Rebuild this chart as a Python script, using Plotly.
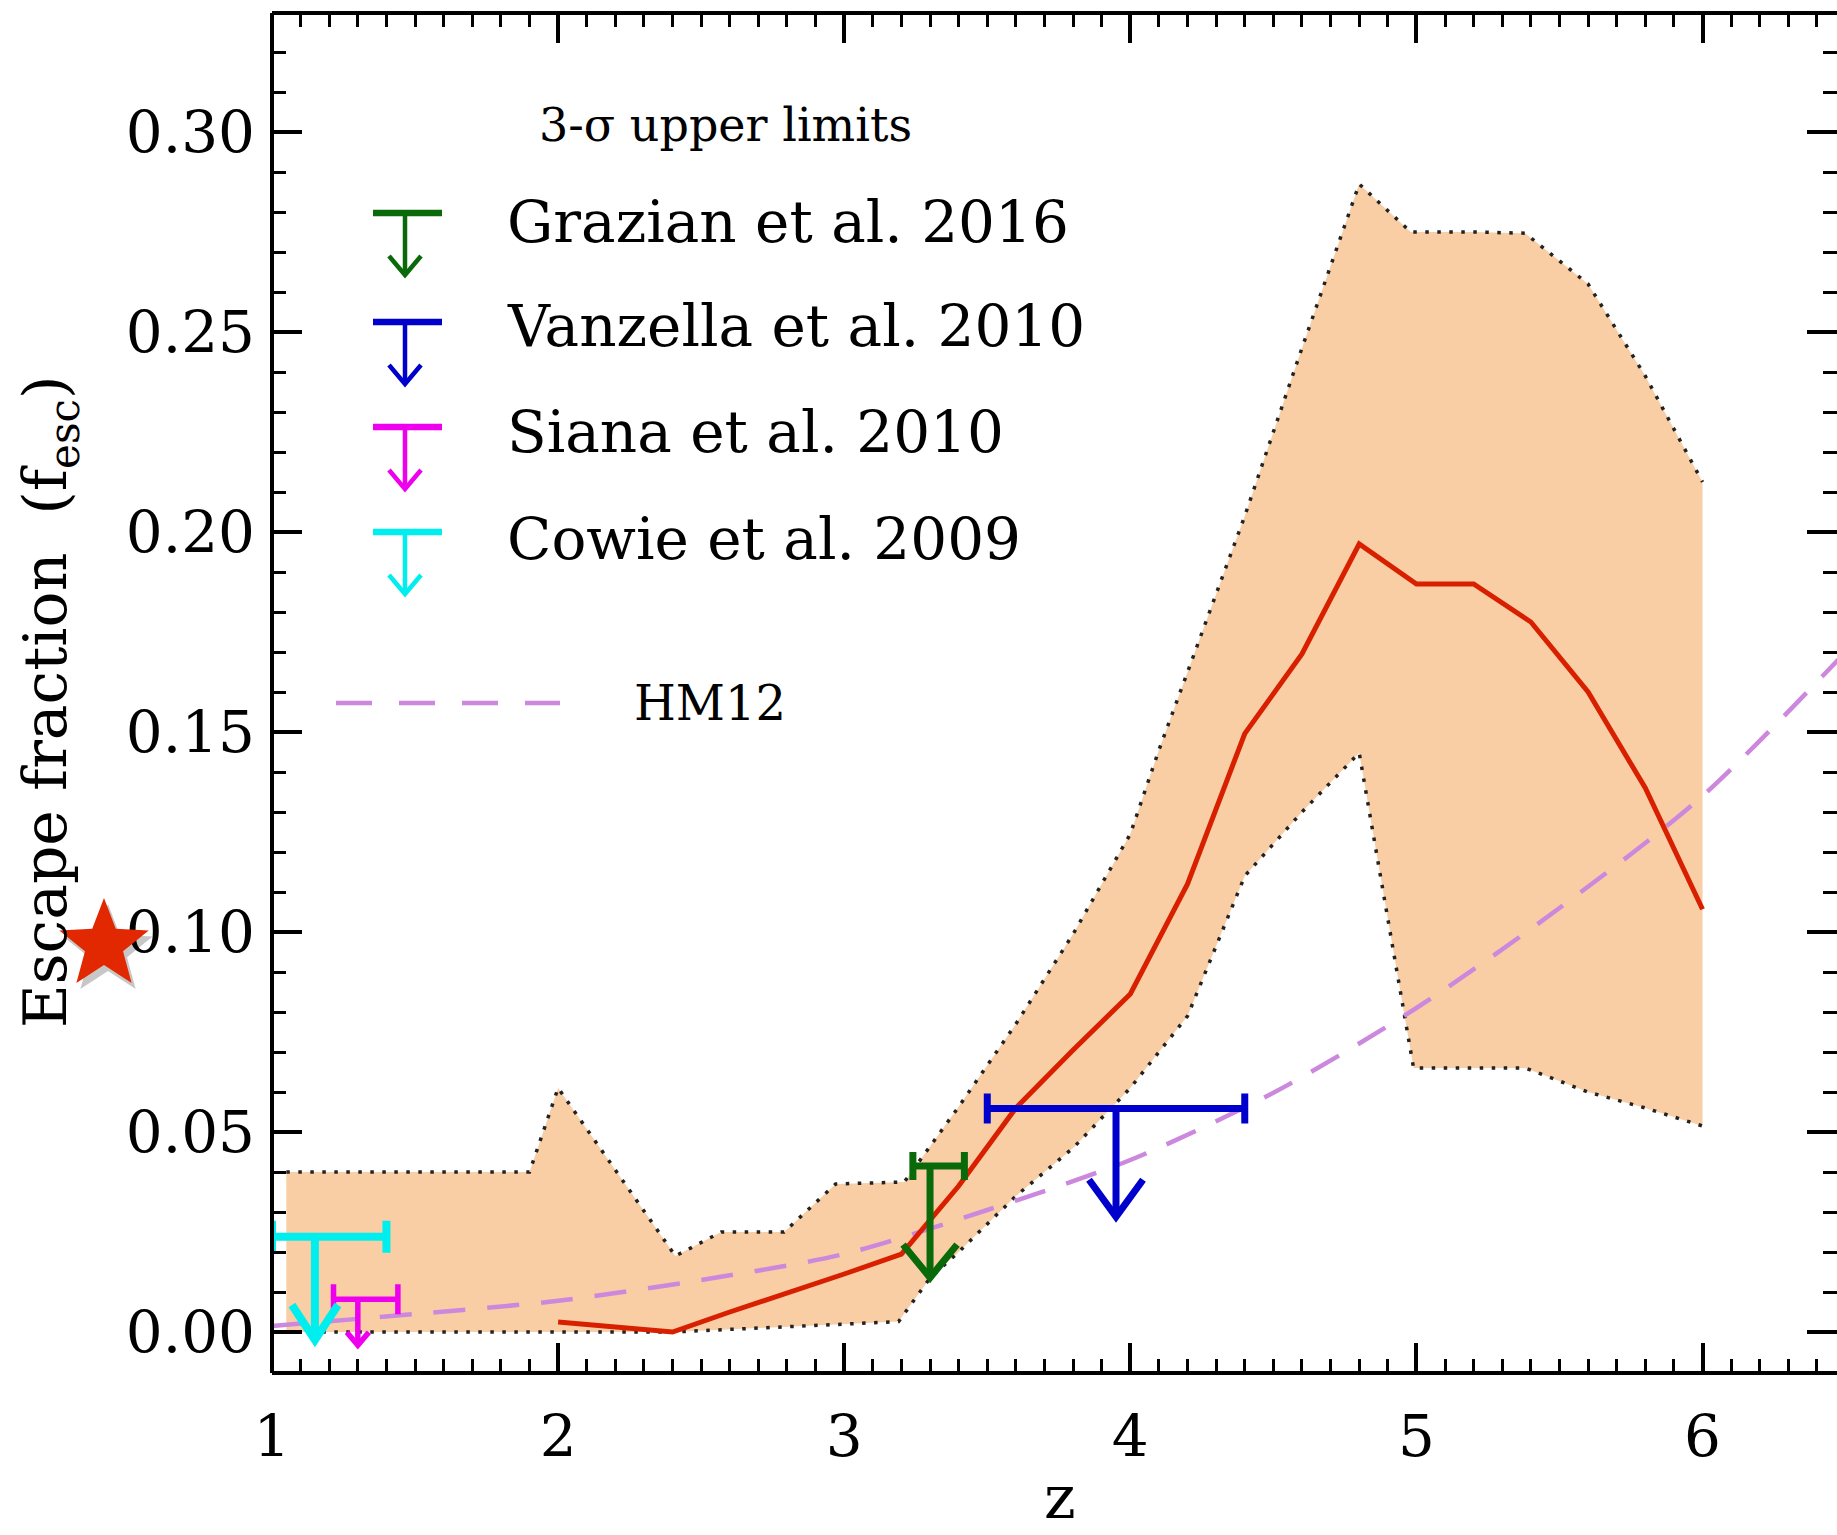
import math
import plotly.graph_objects as go

# ---------------- data ----------------
# model band (upper / lower envelope)
band_upper_z = [1.05, 1.90, 2.00, 2.41, 2.57, 2.79, 2.97, 3.21, 3.40, 3.60, 3.80, 4.00, 4.10, 4.40, 4.60, 4.80, 4.98, 5.20, 5.38, 5.60, 5.80, 6.00]
band_upper_f = [0.040, 0.040, 0.061, 0.019, 0.025, 0.025, 0.037, 0.0375, 0.0563, 0.077, 0.0995, 0.1245, 0.1455, 0.204, 0.246, 0.287, 0.275, 0.275, 0.2747, 0.262, 0.239, 0.2125]
band_lower_z = [1.05, 2.40, 3.19, 3.30, 3.40, 3.60, 3.80, 4.00, 4.20, 4.40, 4.60, 4.80, 4.99, 5.20, 5.38, 5.60, 5.80, 6.00]
band_lower_f = [0.000, 0.000, 0.0026, 0.0135, 0.0200, 0.034, 0.046, 0.061, 0.079, 0.114, 0.130, 0.1448, 0.066, 0.066, 0.066, 0.060, 0.056, 0.0515]

# model median (red line)
model_z = [2.0, 2.4, 2.6, 2.8, 3.0, 3.2, 3.4, 3.6, 3.8, 4.0, 4.2, 4.4, 4.6, 4.8, 5.0, 5.2, 5.4, 5.6, 5.8, 6.0]
model_f = [0.0025, 0.0, 0.005, 0.0097, 0.0145, 0.0195, 0.0365, 0.056, 0.0705, 0.0845, 0.112, 0.1496, 0.1695, 0.197, 0.187, 0.187, 0.1775, 0.160, 0.136, 0.1057]

# HM12
hm12_z = [1.0, 1.5, 2.0, 2.5, 3.0, 3.5, 4.0, 4.5, 5.0, 5.5, 6.0, 6.5]
hm12_f = [0.0015, 0.0045, 0.0078, 0.013, 0.0195, 0.0305, 0.043, 0.0598, 0.081, 0.106, 0.134, 0.170]

# 3-sigma upper limits
lim_names = ["Grazian et al. 2016", "Vanzella et al. 2010", "Siana et al. 2010", "Cowie et al. 2009"]
lim_z = [3.30, 3.95, 1.30, 1.15]
lim_zminus = [0.06, 0.45, 0.085, 0.15]
lim_zplus = [0.12, 0.45, 0.14, 0.25]
lim_f = [0.0415, 0.0559, 0.0082, 0.0238]
lim_tip = [0.0136, 0.0288, -0.0033, -0.0020]

# ---------------- style ----------------
lim_colors = ["#0a6a0a", "#0000cc", "#ee00ee", "#00eeee"]
lim_width = [7, 7, 5.5, 8]
lim_cap = [14, 15, 15, 16]
head_halfw_px = [27, 27, 11, 23]
head_h_px = [33, 37, 13, 35]
HM_COLOR = "#cc88dc"

W, H = 1837, 1535
ML, MR, MT, MB = 272, 0, 13, 162
XR = [1.0, 6.47]
YR = [-0.01025, 0.32975]
PW = W - ML - MR
PH = H - MT - MB
PX_PER_Z = PW / (XR[1] - XR[0])
PX_PER_F = PH / (YR[1] - YR[0])


def zx(px):
    return XR[0] + (px - ML) / PX_PER_Z


def fy(py):
    return YR[1] - (py - MT) / PX_PER_F


def paper_x(px):
    return (px - ML) / PW


def paper_y(py):
    return (H - MB - py) / PH


def star_path(cx, cy, r_out, r_in):
    pts = []
    for k in range(10):
        ang = -math.pi / 2 + k * math.pi / 5
        r = r_out if k % 2 == 0 else r_in
        pts.append((paper_x(cx + r * math.cos(ang)), paper_y(cy + r * math.sin(ang))))
    return "M " + " L ".join(f"{a:.5f},{b:.5f}" for a, b in pts) + " Z"


FONT = "DejaVu Serif"

fig = go.Figure()

# band fill
fig.add_trace(go.Scatter(
    x=band_upper_z + band_lower_z[::-1],
    y=band_upper_f + band_lower_f[::-1],
    fill="toself", fillcolor="#f9cea5", line=dict(width=0),
    mode="lines", hoverinfo="skip", showlegend=False))
# dotted envelopes
for zz, ff in [(band_upper_z, band_upper_f), (band_lower_z, band_lower_f)]:
    fig.add_trace(go.Scatter(x=zz, y=ff, mode="lines",
                             line=dict(color="#222222", width=3.5, dash="3.5px,8.5px"),
                             showlegend=False, hoverinfo="skip"))

# HM12
fig.add_trace(go.Scatter(x=hm12_z, y=hm12_f, mode="lines",
                         line=dict(color=HM_COLOR, width=4.5, dash="32px,22px", shape="spline", smoothing=0.8),
                         showlegend=False))

# model median
fig.add_trace(go.Scatter(x=model_z, y=model_f, mode="lines",
                         line=dict(color="#d82000", width=5),
                         showlegend=False))

# upper limits
for i in range(len(lim_names)):
    c = lim_colors[i]
    dx = head_halfw_px[i] / PX_PER_Z
    dy = head_h_px[i] / PX_PER_F
    z0 = lim_z[i]
    fig.add_trace(go.Scatter(
        x=[z0], y=[lim_f[i]], mode="markers",
        marker=dict(size=1, color=c, opacity=0),
        error_x=dict(type="data", symmetric=False, array=[lim_zplus[i]], arrayminus=[lim_zminus[i]],
                     color=c, thickness=lim_width[i], width=lim_cap[i]),
        showlegend=False, cliponaxis=False))
    fig.add_trace(go.Scatter(
        x=[z0, z0, None, z0 - dx, z0, z0 + dx],
        y=[lim_f[i], lim_tip[i], None, lim_tip[i] + dy, lim_tip[i], lim_tip[i] + dy],
        mode="lines", line=dict(color=c, width=lim_width[i]),
        showlegend=False, cliponaxis=False))

shapes = []
annotations = []

# decorative red star (with soft shadow) next to the 0.10 tick
shapes.append(dict(type="path", xref="paper", yref="paper", path=star_path(108, 951, 47, 20),
                   fillcolor="rgba(0,0,0,0.22)", line=dict(width=0), layer="above"))
shapes.append(dict(type="path", xref="paper", yref="paper", path=star_path(104, 945, 47, 20),
                   fillcolor="#e22800", line=dict(width=0), layer="above"))

# frame lines (left, top, bottom)
for (x0, y0, x1, y1) in [(0, 0, 0, 1), (0, 1, 1, 1), (0, 0, 1, 0)]:
    shapes.append(dict(type="line", xref="paper", yref="paper", x0=x0, y0=y0, x1=x1, y1=y1,
                       line=dict(color="black", width=4), layer="above"))

# legend glyphs
leg_bar_y = [213, 322, 427, 532]
leg_text_y = [222, 326, 432, 539]
for i in range(4):
    c = lim_colors[i]
    by = leg_bar_y[i]
    tip = by + 62
    shapes.append(dict(type="line", xref="x", yref="y", x0=zx(373), x1=zx(442), y0=fy(by), y1=fy(by),
                       line=dict(color=c, width=6.5)))
    shapes.append(dict(type="line", xref="x", yref="y", x0=zx(405), x1=zx(405), y0=fy(by), y1=fy(tip),
                       line=dict(color=c, width=4.5)))
    shapes.append(dict(type="path", xref="x", yref="y",
                       path=f"M {zx(389)},{fy(tip-19)} L {zx(405)},{fy(tip)} L {zx(421)},{fy(tip-19)}",
                       line=dict(color=c, width=4.5)))
    annotations.append(dict(text=lim_names[i], xref="paper", yref="paper", x=paper_x(505), y=paper_y(leg_text_y[i]),
                            xanchor="left", yanchor="middle", showarrow=False,
                            font=dict(family=FONT, size=58, color="black")))

annotations.append(dict(text="3-σ upper limits", xref="paper", yref="paper", x=paper_x(537), y=paper_y(125),
                        xanchor="left", yanchor="middle", showarrow=False,
                        font=dict(family=FONT, size=46, color="black")))
shapes.append(dict(type="line", xref="paper", yref="paper", x0=paper_x(336), x1=paper_x(560),
                   y0=paper_y(703), y1=paper_y(703), line=dict(color=HM_COLOR, width=4.5, dash="36px,27px")))
annotations.append(dict(text="HM12", xref="paper", yref="paper", x=paper_x(632), y=paper_y(703),
                        xanchor="left", yanchor="middle", showarrow=False,
                        font=dict(family=FONT, size=48, color="black")))

# axis titles
annotations.append(dict(text="Escape fraction\u00a0\u00a0(f<sub>esc</sub>)", xref="paper", yref="paper",
                        x=paper_x(49), y=paper_y(702), textangle=-90, xanchor="center", yanchor="middle",
                        showarrow=False, font=dict(family=FONT, size=60, color="black")))
annotations.append(dict(text="z", xref="paper", yref="paper", x=paper_x(1060), y=paper_y(1534),
                        xanchor="center", yanchor="bottom", showarrow=False,
                        font=dict(family=FONT, size=60, color="black")))

fig.update_layout(
    width=W, height=H,
    margin=dict(l=ML, r=MR, t=MT, b=MB, pad=0),
    paper_bgcolor="white", plot_bgcolor="white",
    showlegend=False,
    shapes=shapes, annotations=annotations,
    font=dict(family=FONT, color="black"),
)
fig.update_xaxes(range=XR, showgrid=False, zeroline=False, showline=False, mirror="ticks",
                 ticks="inside", ticklen=30, tickwidth=3.5, tickcolor="black",
                 tick0=1, dtick=1, tickfont=dict(family=FONT, size=58, color="black"),
                 ticklabelstandoff=24,
                 minor=dict(ticks="inside", dtick=0.1, ticklen=14, tickwidth=3, tickcolor="black", showgrid=False))
fig.update_yaxes(range=YR, showgrid=False, zeroline=False, showline=False, mirror="ticks",
                 ticks="inside", ticklen=30, tickwidth=3.5, tickcolor="black",
                 tick0=0, dtick=0.05, tickformat=".2f", tickfont=dict(family=FONT, size=58, color="black"),
                 ticklabelstandoff=16,
                 minor=dict(ticks="inside", dtick=0.01, ticklen=14, tickwidth=3, tickcolor="black", showgrid=False))

fig.write_html("out.html")
